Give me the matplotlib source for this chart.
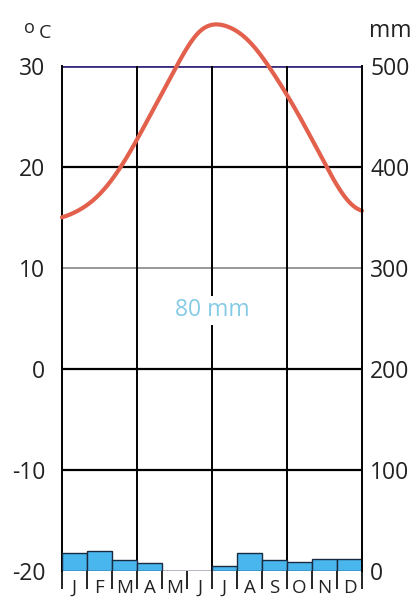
import numpy as np
import matplotlib
matplotlib.use("Agg")
import matplotlib.pyplot as plt

months = ["J", "F", "M", "A", "M", "J", "J", "A", "S", "O", "N", "D"]
temp_c = [15.5, 17.3, 20.6, 25.0, 29.6, 33.4, 34.0, 32.4, 29.1, 25.0, 20.4, 16.5]
precip_mm = [18, 20, 11, 8, 0, 0, 5, 18, 11, 9, 12, 12]
temp_ticks = [-20, -10, 0, 10, 20, 30]
precip_ticks = [0, 100, 200, 300, 400, 500]
total_label = "80 mm"

plt.rcParams["font.family"] = ["Open Sans", "DejaVu Sans"]
FS = 16.5

fig = plt.figure(figsize=(4.16, 6.01), dpi=100)
ax = fig.add_axes([62/416, 1 - 571/601, 300/416, (571-66)/601])
ax.set_xlim(0, 12)
ax.set_ylim(-20, 30)

# precipitation on twin axis
ax2 = ax.twinx()
ax2.set_ylim(0, 500)
x = np.arange(12) + 0.5
ax2.bar(x, precip_mm, width=1.0, color="#4ab6ee", edgecolor="#1a2a40", linewidth=1.0, zorder=2)

# grid
for tk in temp_ticks:
    if tk == 30:
        col, lw = "#3b2d7b", 2.0
    elif tk == -20:
        col, lw = "#6a5a8a", 1.0
    elif tk == 10:
        col, lw = "#888888", 1.2
    else:
        col, lw = "black", 1.6
    ax.axhline(tk, color=col, lw=lw, zorder=1)
for b in [3, 6, 9]:
    ax.axvline(b, color="black", lw=1.4, zorder=1)

# temperature curve: clamped cubic spline through the monthly values
T = np.array(temp_c)
n = len(T)
s_start, s_end = 1.2, -2.6   # end slopes (deg/month) for a smooth shape
A = np.zeros((n, n))
rhs = np.zeros(n)
A[0, 0], A[0, 1] = 2, 1
rhs[0] = 6 * ((T[1] - T[0]) - s_start)
A[-1, -2], A[-1, -1] = 1, 2
rhs[-1] = 6 * (s_end - (T[-1] - T[-2]))
for i in range(1, n - 1):
    A[i, i - 1], A[i, i], A[i, i + 1] = 1, 4, 1
    rhs[i] = 6 * (T[i + 1] - 2 * T[i] + T[i - 1])
M = np.linalg.solve(A, rhs)

xs = np.linspace(0, 12, 600)
u = xs - 0.5
vals = np.empty_like(xs)
for j, uu in enumerate(u):
    if uu < 0:
        vals[j] = T[0] + s_start * uu + M[0] / 2 * uu ** 2
    elif uu > n - 1:
        d = uu - (n - 1)
        vals[j] = T[-1] + s_end * d + M[-1] / 2 * d ** 2
    else:
        i = min(int(np.floor(uu)), n - 2)
        t = uu - i
        vals[j] = ((1 - t) * T[i] + t * T[i + 1]
                   + ((1 - t) ** 3 - (1 - t)) * M[i] / 6 + (t ** 3 - t) * M[i + 1] / 6)
ax.plot(xs, vals, color="#e2604c", lw=3, clip_on=False, zorder=5, solid_capstyle="round")

ax.text(6, 5.8, total_label, color="#86cbe6", fontsize=FS, ha="center", va="center",
        bbox=dict(facecolor="white", edgecolor="none", pad=2), zorder=6)

# spines
for s in ["top", "bottom"]:
    ax.spines[s].set_visible(False)
    ax2.spines[s].set_visible(False)
ax.spines["left"].set_linewidth(1.4)
ax2.spines["right"].set_linewidth(1.4)
ax2.spines["left"].set_visible(False)
ax.spines["right"].set_visible(False)

ax.set_yticks(temp_ticks)
ax.set_yticklabels([str(v) for v in temp_ticks])
ax.tick_params(axis="y", length=0, labelsize=FS, pad=12, colors="#222222")
ax2.set_yticks(precip_ticks)
ax2.set_yticklabels([str(v) for v in precip_ticks])
ax2.tick_params(axis="y", length=0, labelsize=FS, pad=6, colors="#222222")

# month ticks below axis
ax.set_xticks(np.arange(13))
ax.set_xticklabels([""] * 13)
ax.tick_params(axis="x", length=13, width=1.2, direction="out", pad=0)
for i, m in enumerate(months):
    ax.text(i + 0.5, -20.75, m, ha="center", va="top", fontsize=13.5, color="#222222", clip_on=False)

fig.text(24/416, 1 - 28/601, "o", fontsize=13, ha="left", va="center", color="#222222")
fig.text(39/416, 1 - 33/601, "C", fontsize=14, ha="left", va="center", color="#222222")
fig.text(369/416, 1 - 31/601, "mm", fontsize=FS, ha="left", va="center", color="#222222")

fig.savefig("out.png", dpi=100)
